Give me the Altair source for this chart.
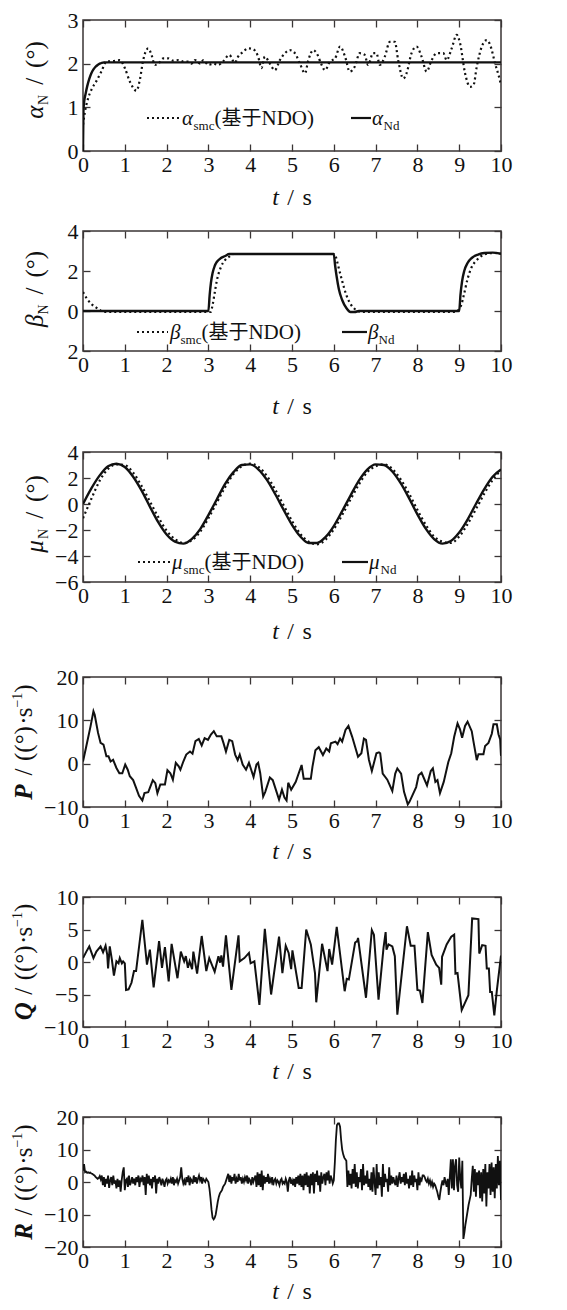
import altair as alt
import pandas as pd

# ---------------------------------------------------------------- data
# panel 1 : alpha
t_alpha_smc = [0, 0.04, 0.12, 0.2, 0.32, 0.44, 0.56, 0.72, 0.88, 1.0,
               1.12, 1.28, 1.36, 1.44, 1.56, 1.64, 1.72, 1.8, 1.92, 2.04,
               2.15, 2.28, 2.4, 2.5, 2.6, 2.68, 2.8, 2.88, 3.0, 3.12,
               3.23, 3.35, 3.5, 3.63, 3.71, 3.83, 3.95, 4.07, 4.19, 4.27,
               4.35, 4.47, 4.59, 4.71, 4.83, 4.95, 5.07, 5.19, 5.31, 5.39,
               5.51, 5.59, 5.71, 5.79, 5.91, 6.03, 6.15, 6.27, 6.38, 6.5,
               6.62, 6.74, 6.82, 6.94, 7.02, 7.1, 7.22, 7.34, 7.46, 7.54,
               7.66, 7.74, 7.86, 7.98, 8.1, 8.22, 8.34, 8.46, 8.62, 8.7,
               8.82, 8.94, 9.02, 9.14, 9.26, 9.34, 9.42, 9.54, 9.66, 9.74,
               9.86, 9.98, 10.0]
alpha_smc = [0.6, 0.86, 1.2, 1.4, 1.6, 1.82, 2.05, 2.06, 2.08, 1.9,
             1.59, 1.38, 1.63, 2.08, 2.35, 2.2, 1.97, 2.0, 2.12, 2.12,
             2.07, 2.08, 2.05, 2.05, 2.0, 2.08, 2.0, 2.08, 1.97, 2.0,
             1.97, 2.05, 2.2, 2.02, 2.16, 2.27, 2.35, 2.33, 2.16, 1.9,
             2.16, 2.0, 1.85, 2.08, 2.24, 2.31, 2.24, 2.0, 1.78, 2.08,
             2.31, 2.24, 1.97, 1.85, 2.05, 2.12, 2.39, 2.16, 1.82, 1.93,
             2.24, 2.2, 1.97, 2.24, 2.24, 1.97, 2.16, 2.5, 2.5, 2.08,
             1.66, 1.78, 2.24, 2.39, 2.16, 1.82, 2.08, 2.24, 2.24, 2.08,
             2.35, 2.66, 2.47, 1.78, 1.47, 1.5, 1.93, 2.39, 2.54, 2.43,
             2.0, 1.59, 1.5]
t_alpha_nd = [0, 0.01, 0.03, 0.06, 0.1, 0.15, 0.2, 0.25, 0.3, 0.35, 0.4, 0.45, 0.5, 0.6, 10.0]
alpha_nd = [0, 0.9, 1.15, 1.3, 1.48, 1.65, 1.78, 1.87, 1.93, 1.97, 2.0, 2.02, 2.03, 2.03, 2.03]

# panel 2 : beta
t_beta_nd = [0, 3.0, 3.03, 3.06, 3.1, 3.15, 3.2, 3.3, 3.4, 3.5, 6.0, 6.03, 6.07, 6.12, 6.2,
             6.3, 6.4, 6.5, 6.6, 9.0, 9.03, 9.07, 9.12, 9.2, 9.3, 9.45, 9.6, 9.8, 10.0]
beta_nd = [0, 0, 0.8, 1.4, 1.9, 2.25, 2.45, 2.65, 2.75, 2.85, 2.85, 2.3, 1.7, 1.1, 0.55,
           0.15, -0.05, -0.05, 0, 0, 0.8, 1.5, 2.0, 2.4, 2.65, 2.82, 2.9, 2.92, 2.86]
t_beta_smc = [0, 0.1, 0.2, 0.3, 0.4, 0.5, 3.05, 3.1, 3.15, 3.2, 3.3, 3.4, 3.5, 3.6, 6.0,
              6.05, 6.1, 6.2, 6.3, 6.4, 6.5, 6.6, 6.7, 8.9, 9.0, 9.05, 9.1, 9.2, 9.3, 9.4,
              9.5, 9.7, 9.85, 10.0]
beta_smc = [0.95, 0.6, 0.35, 0.2, 0.05, -0.05, -0.05, 0.3, 0.9, 1.5, 2.2, 2.55, 2.72, 2.85, 2.85,
            2.7, 2.3, 1.5, 0.8, 0.35, 0.1, -0.02, -0.05, -0.05, 0.1, 0.3, 0.7, 1.6, 2.2, 2.5,
            2.7, 2.88, 2.9, 2.86]

# panel 3 : mu (sampled every 0.2 s)
t_mu = [round(0.2 * i, 1) for i in range(51)]
mu_nd = [0.0, 1.2, 2.2, 2.9, 3.1, 2.85, 2.1, 1.05, -0.2, -1.4,
         -2.35, -2.9, -3.05, -2.7, -1.95, -0.85, 0.35, 1.55, 2.45, 3.0,
         3.05, 2.65, 1.85, 0.75, -0.45, -1.6, -2.5, -3.0, -3.0, -2.55,
         -1.7, -0.55, 0.65, 1.8, 2.65, 3.05, 3.0, 2.5, 1.6, 0.45,
         -0.8, -1.9, -2.7, -3.05, -2.85, -2.2, -1.2, 0.0, 1.15, 2.1, 2.65]
mu_smc = [-1.1, 0.4, 1.8, 2.7, 3.05, 3.0, 2.4, 1.4, 0.2, -1.0,
          -2.05, -2.7, -3.0, -2.8, -2.15, -1.1, 0.1, 1.3, 2.3, 2.9,
          3.1, 2.85, 2.15, 1.1, -0.1, -1.3, -2.3, -2.9, -3.1, -2.75,
          -1.95, -0.85, 0.35, 1.5, 2.45, 2.9, 3.05, 2.7, 1.9, 0.8,
          -0.45, -1.6, -2.5, -2.9, -3.0, -2.5, -1.55, -0.4, 0.8, 1.85, 2.6]

# panel 4 : P
t_p = [0, 0.07, 0.18, 0.25, 0.28, 0.36, 0.42, 0.49, 0.56, 0.61,
       0.66, 0.72, 0.8, 0.87, 0.94, 1.01, 1.07, 1.12, 1.2, 1.27,
       1.34, 1.42, 1.47, 1.56, 1.6, 1.67, 1.73, 1.78, 1.85, 1.96,
       2.02, 2.09, 2.15, 2.22, 2.29, 2.33, 2.4, 2.47, 2.56, 2.62,
       2.69, 2.77, 2.84, 2.91, 2.99, 3.06, 3.13, 3.2, 3.31, 3.36,
       3.42, 3.5, 3.57, 3.64, 3.7, 3.75, 3.82, 3.9, 3.97, 4.08,
       4.15, 4.19, 4.24, 4.31, 4.36, 4.47, 4.54, 4.69, 4.76, 4.82,
       4.87, 4.91, 4.98, 5.09, 5.23, 5.28, 5.45, 5.49, 5.56, 5.64,
       5.74, 5.82, 5.89, 5.93, 6.04, 6.09, 6.15, 6.2, 6.28, 6.35,
       6.44, 6.58, 6.66, 6.72, 6.77, 6.84, 6.91, 7.02, 7.08, 7.11,
       7.17, 7.28, 7.4, 7.47, 7.52, 7.61, 7.68, 7.77, 7.81, 7.97,
       8.03, 8.1, 8.23, 8.32, 8.37, 8.43, 8.48, 8.54, 8.63, 8.74,
       8.81, 8.88, 8.96, 9.02, 9.07, 9.14, 9.2, 9.3, 9.34, 9.39,
       9.42, 9.46, 9.58, 9.62, 9.7, 9.78, 9.82, 9.9, 9.94, 9.98,
       10.0]
p_rate = [0.5, 3.6, 8.6, 12.1, 11.3, 7.1, 4.8, 4.4, 1.7, 1.7,
          0.5, 0.9, -1.0, -2.2, -2.2, -0.2, -1.4, -2.9, -3.8, -5.6,
          -7.4, -8.5, -6.8, -6.6, -5.6, -3.8, -4.5, -6.8, -4.8, -4.8,
          -1.5, -2.2, -3.7, 0.2, -0.6, -1.4, 0.5, 2.1, 2.8, 2.3,
          5.2, 5.7, 4.2, 5.9, 5.5, 6.7, 7.5, 6.3, 6.3, 4.8,
          2.8, 5.5, 5.2, 2.1, 0.8, 2.1, -0.2, -1.4, 0.2, -3.1,
          -0.2, 0.2, -2.2, -7.6, -6.5, -3.2, -3.8, -8.3, -6.0, -7.8,
          -8.5, -4.4, -6.0, -4.2, -0.3, -3.5, -3.5, -0.7, 3.1, 3.8,
          2.0, 3.5, 2.8, 4.7, 5.1, 4.5, 5.8, 5.1, 7.8, 8.7,
          6.2, 1.6, 2.4, 5.8, 5.5, 0.9, -1.7, 2.4, 2.6, 2.4,
          -2.3, -3.7, -6.3, -2.3, -1.1, -2.3, -6.5, -9.4, -8.8, -5.4,
          -2.7, -2.1, -5.0, -1.7, -1.1, -4.2, -3.8, -6.8, -4.2, 0.4,
          2.4, 6.2, 9.3, 7.9, 6.0, 8.7, 9.7, 7.5, 5.2, 2.5,
          0.8, 2.2, 2.2, 4.1, 4.8, 6.9, 9.1, 9.1, 6.8, 5.6,
          1.8]

# panel 5 : Q
t_q = [0, 0.08, 0.15, 0.25, 0.32, 0.42, 0.48, 0.54, 0.58, 0.6,
       0.64, 0.69, 0.74, 0.8, 0.85, 0.88, 0.93, 0.96, 1.0, 1.03,
       1.09, 1.16, 1.22, 1.27, 1.42, 1.53, 1.6, 1.69, 1.82, 1.89,
       1.96, 2.05, 2.12, 2.26, 2.34, 2.42, 2.46, 2.51, 2.55, 2.61,
       2.64, 2.73, 2.84, 2.95, 3.02, 3.15, 3.24, 3.28, 3.31, 3.35,
       3.42, 3.55, 3.72, 3.75, 3.86, 3.97, 4.01, 4.1, 4.22, 4.35,
       4.5, 4.69, 4.77, 4.85, 4.92, 4.98, 5.01, 5.16, 5.23, 5.34,
       5.45, 5.55, 5.58, 5.72, 5.85, 5.89, 5.96, 6.07, 6.26, 6.31,
       6.36, 6.51, 6.56, 6.58, 6.77, 6.91, 6.96, 7.07, 7.19, 7.24,
       7.26, 7.31, 7.4, 7.46, 7.52, 7.75, 7.84, 7.93, 8.0, 8.06,
       8.12, 8.25, 8.34, 8.45, 8.52, 8.57, 8.59, 8.7, 8.81, 8.88,
       8.91, 8.96, 9.06, 9.22, 9.31, 9.46, 9.48, 9.55, 9.63, 9.66,
       9.71, 9.74, 9.78, 9.84, 9.9, 10.0]
q_rate = [0.6, 1.6, 2.4, 0.6, 1.6, 2.4, 1.5, 2.5, 1.1, -1.0,
          2.4, 0.4, -2.1, 0.1, -0.2, 0.6, -0.2, 0.1, -0.2, -4.3,
          -4.2, -3.2, -1.4, -1.4, 6.5, -0.4, 1.9, -3.9, 3.2, -0.9,
          2.3, -3.0, 2.8, -2.5, 1.6, 0.1, 0.9, -0.9, 0.1, -1.1,
          1.6, -1.8, 4.0, -1.4, 0.6, -1.5, 0.9, -0.1, 1.0, -0.7,
          4.1, -4.3, 4.1, 0.1, 0.6, 1.4, -0.2, 0.1, -6.6, 5.1,
          -5.0, 3.9, -1.7, 2.5, 1.4, -1.1, 1.8, -4.0, -4.0, 5.0,
          2.7, -1.7, -6.2, 2.8, -1.4, 2.0, -0.4, 5.4, -4.5, -2.6,
          -2.7, 3.0, 3.2, 3.7, -5.5, 4.9, 4.2, -5.8, 2.2, 4.6,
          1.9, 2.7, 2.4, 0.9, -8.1, 5.5, 2.5, 2.5, -4.3, -4.4,
          -6.3, 4.6, 1.1, -0.4, -0.9, -3.5, 0.8, 2.7, 3.9, 4.2,
          -1.8, -1.7, -7.4, -5.1, 6.7, 6.6, 1.3, 2.6, 2.5, -1.0,
          -1.0, -4.6, -4.6, -8.2, -4.4, 1.0]

# panel 6 : R (sampled every 0.025 s)
t_r = [round(0.025 * i, 3) for i in range(401)]
r_rate = [
    3.5, 5.5, 3.0, 3.2, 2.8, 3.0, 2.8, 2.9, 2.6, 2.5, 2.2, 2.0, 1.6, 1.3, 1.0, 1.2, 1.8, 0.8, 2.0, -1.0,
    1.5, -1.5, 1.0, -0.5, 2.0, -1.8, 0.5, 1.5, -1.0, 2.0, -0.5, 0.5, -2.0, 1.0, -1.5, 0.5, -3.0, 0.5, 3.0, 4.5,
    -2.5, 0.5, 1.0, -1.5, 2.0, -1.0, 0.0, 1.5, -0.5, 1.0, -1.0, 1.5, 0.0, 2.0, -1.5, 1.0, 0.5, 2.0, -1.0, 1.5,
    -4.0, 2.5, -0.5, 2.0, -1.0, 1.0, -2.0, 1.5, 0.0, 2.0, -3.5, 1.0, -0.5, 1.5, 0.5, -1.0, 1.0, 0.0, -1.5, 0.5,
    1.0, -0.5, 0.5, 0.0, 1.0, -0.5, 1.5, -1.0, 0.5, 0.0, 1.0, -0.5, 0.5, 1.5, 4.5, 1.0, -0.5, 0.5, -1.0, 1.5,
    0.0, 2.0, -1.0, 1.0, 0.5, -0.5, 2.0, 0.0, 1.5, -0.5, 1.0, 2.0, 0.5, 1.5, -0.5, 1.0, 0.5, 0.0, 1.0, 0.5,
    0.0, -2.0, -5.0, -8.5, -11.0, -11.5, -11.0, -10.0, -8.0, -6.0, -4.5, -3.5, -3.0, -2.5, -1.5, -1.0, -0.5, 0.5, 1.5, 2.5,
    0.0, 2.0, -0.5, 1.5, 0.5, 2.5, -0.5, 1.0, 0.0, 2.5, 0.5, 1.5, -0.5, 1.0, 0.0, 1.5, 0.5, 2.0, -0.5, 1.0,
    0.5, -1.0, 1.5, 0.0, 1.0, 2.0, -1.5, 3.0, -1.0, 2.5, -1.5, 3.5, -2.5, 2.0, -0.5, 1.5, 0.0, 2.5, -0.5, 1.0,
    0.0, 1.5, -1.0, 0.5, 1.0, -0.5, 0.5, 0.0, -1.0, 0.5, 1.0, -0.5, 0.0, -0.5, 1.0, 0.0, -3.0, 0.5, 1.5, -0.5,
    0.5, -1.0, 1.0, -1.5, 1.5, -0.5, 2.0, -1.0, 2.5, -1.5, 2.0, -2.5, 2.5, -1.0, 3.0, -1.5, 2.0, -3.5, 2.5, -1.0,
    3.0, -3.5, 2.5, 0.0, 3.5, -1.0, 2.0, -3.0, 3.0, -0.5, 1.5, 2.5, -1.0, 3.0, 0.5, 3.5, -0.5, 2.0, 1.0, -0.5,
    0.5, 6.0, 13.0, 17.5, 18.0, 18.0, 17.0, 13.0, 10.0, 8.5, 7.5, 7.0, 6.5, -1.5, 3.5, -1.0, 2.5, -2.0, 4.0, -0.5,
    5.5, -1.5, 3.0, -2.0, 1.5, 0.0, 4.0, -2.5, 5.5, -1.0, 2.0, -0.5, 3.5, -1.5, 1.0, -2.5, 3.0, -3.0, 4.5, 0.0,
    -4.0, 5.5, -2.0, 3.0, -1.0, 1.5, -4.5, 5.5, -1.5, 2.5, 0.0, 1.0, -3.0, 4.5, -1.0, 2.0, -0.5, 1.5, 0.0, -1.0,
    2.0, -1.5, 1.0, 3.0, -0.5, 1.5, 0.0, 2.5, -1.0, 3.0, -0.5, 1.0, -2.0, 2.0, -1.0, 3.5, -1.5, 2.0, 0.0, 1.0,
    -2.5, 3.0, -1.0, 1.0, 0.5, 2.0, 2.0, 1.5, 0.5, 0.0, 1.0, -0.5, 0.5, -1.0, 0.0, -1.5, -0.5, -1.0, -2.0, -3.0,
    -4.5, -5.5, -3.0, -1.0, 0.5, -1.0, 1.5, 0.0, -1.5, 1.0, -4.0, 1.5, 7.0, -2.0, 7.0, -2.5, 5.0, 7.0, -1.0, -3.0,
    7.5, 1.0, -2.0, 6.5, -17.5, -15.5, -13.0, -11.0, -9.0, -7.0, -5.5, -4.0, 1.0, 5.0, -3.0, 4.0, -4.5, 3.0, -1.0, 3.5,
    -5.0, 3.0, -6.0, 4.0, -3.5, 5.5, -7.5, 3.0, -2.0, 5.5, -4.0, 6.0, -3.0, 4.5, -5.0, 5.5, -2.0, 8.0, -1.0, 6.5,
    -5.5]

x_ticks = list(range(0, 11))

# ---------------------------------------------------------------- style
FONT = "Liberation Serif"
CJK = "Noto Sans CJK SC"
INK = "#111111"
FRAME = "#3a3535"
W = 418
TICK = 7
LBL = 22
TTL = 24
LEG = 21
SUB = 14

CW = {' ': 0.25, '/': 0.278, '(': 0.333, ')': 0.333, '°': 0.4, '·': 0.25, 's': 0.389,
      'N': 0.722, 'D': 0.722, 'O': 0.722, 'd': 0.5, 'm': 0.778, 'c': 0.444, 'P': 0.667,
      'Q': 0.722, 'R': 0.667, 't': 0.278, 'α': 0.55, 'β': 0.5, 'μ': 0.55, '基': 1.0,
      '于': 1.0, '−': 0.564, '1': 0.5}


def tw(s, size):
    return sum(CW.get(ch, 0.5) for ch in s) * size


ONE = pd.DataFrame({"k": [0]})
XS = alt.Scale(domain=[0, 10], nice=False, zero=False)


def txt(s, x, y, size, style="normal", weight="normal", angle=0, dx=0, dy=0, font=FONT):
    return alt.Chart(ONE).mark_text(
        text=s, font=font, fontSize=size, fontStyle=style, fontWeight=weight,
        angle=angle, dx=dx, dy=dy, align="left", baseline="alphabetic", color=INK
    ).encode(x=alt.value(x), y=alt.value(y))


def hrule(x1, x2, y, dotted):
    kw = dict(color=INK, strokeWidth=2.2, strokeCap="butt")
    if dotted:
        kw["strokeDash"] = [2, 3]
    return alt.Chart(ONE).mark_rule(**kw).encode(
        x=alt.value(x1), x2=alt.value(x2), y=alt.value(y))


def xenc(orient):
    ax = alt.Axis(orient=orient, values=x_ticks, offset=-TICK, tickSize=TICK, domain=False,
                  grid=False, title=None, labels=(orient == "bottom"), labelFlush=False,
                  labelOverlap=False, format="d", labelFont=FONT, labelFontSize=LBL,
                  labelColor=INK, labelPadding=3, tickColor=FRAME, tickWidth=1.3)
    return alt.X("t:Q", scale=XS, axis=ax)


def yenc(orient, dom, vals, expr=None):
    kw = dict(orient=orient, values=vals, offset=-TICK, tickSize=TICK, domain=False,
              grid=False, title=None, labels=(orient == "left"), labelFlush=False,
              labelOverlap=False, labelFont=FONT, labelFontSize=LBL, labelColor=INK,
              labelPadding=5, tickColor=FRAME, tickWidth=1.3)
    if expr:
        kw["labelExpr"] = expr
    return alt.Y("v:Q", scale=alt.Scale(domain=dom, nice=False, zero=False), axis=alt.Axis(**kw))


# a piece: (text, size, style, weight, shift across baseline, gap before in em, font)
def pc(s, size, style="normal", weight="normal", shift=0, gap=0.0, font=FONT):
    return (s, size, style, weight, shift, gap, font)


def run_len(pieces):
    return sum(p[5] * p[1] + tw(p[0], p[1]) for p in pieces)


def hpieces(pieces, x0, y):
    out, x = [], x0
    for s, size, style, weight, dy, gap, font in pieces:
        x += gap * size
        out.append(txt(s, x, y, size, style, weight, dy=dy, font=font))
        x += tw(s, size)
    return out


def ytitle(pieces, xb, yc):
    y0 = yc + run_len(pieces) / 2
    out, acc = [], 0
    for s, size, style, weight, dy, gap, font in pieces:
        acc += gap * size
        out.append(txt(s, xb, y0, size, style, weight, angle=270, dx=acc, dy=dy, font=font))
        acc += tw(s, size)
    return out


def legend(sym, yl, yb, d1, d2, s1, s2):
    out = [hrule(d1, d2, yl, True), hrule(s1, s2, yl, False)]
    out += hpieces([pc(sym, LEG, "italic"), pc("smc", SUB - 1, shift=5), pc("(", LEG),
                    pc("基于", LEG - 1, font=CJK), pc("NDO)", LEG)], d2 + 2, yb)
    out += hpieces([pc(sym, LEG, "italic"), pc("Nd", SUB - 1, shift=5)], s2 + 1, yb)
    return out


def panel(h, dom, vals, lines, tpieces, tx, ty, xoff, leg=None, expr=None):
    layers = []
    for i, (t, v, dotted, width, interp) in enumerate(lines):
        df = pd.DataFrame({"t": t, "v": v})
        kw = dict(color=INK, strokeWidth=width, interpolate=interp, clip=True)
        if dotted:
            kw.update(strokeDash=[2, 3], strokeCap="butt")
        if i == 0:
            enc = dict(x=xenc("bottom"), y=yenc("left", dom, vals, expr))
        else:
            enc = dict(x=alt.X("t:Q", scale=XS, axis=None),
                       y=alt.Y("v:Q", scale=alt.Scale(domain=dom, nice=False, zero=False), axis=None))
        layers.append(alt.Chart(df).mark_line(**kw).encode(**enc))
    t0, v0 = lines[0][0], lines[0][1]
    layers.append(alt.Chart(pd.DataFrame({"t": t0, "v": v0})).mark_line(opacity=0).encode(
        x=xenc("top"), y=yenc("right", dom, vals)))
    layers += ytitle(tpieces, tx, ty)
    xt = [pc("t", TTL, "italic"), pc("/", TTL, gap=0.35), pc("s", TTL, gap=0.35)]
    layers += hpieces(xt, W / 2 - run_len(xt) / 2, h + xoff)
    if leg:
        layers += leg
    return alt.layer(*layers).resolve_axis(x="independent", y="independent").properties(width=W, height=h)


def greek_title(sym):
    return [pc(sym, TTL + 1, "italic"), pc("N", SUB, shift=5),
            pc("/", TTL + 1, gap=0.4), pc("(°)", TTL + 1, gap=0.4)]


def rate_title(sym):
    return [pc(sym, TTL + 1, "italic", "bold"), pc("/", TTL + 1, gap=0.3),
            pc("((°)", TTL + 1, gap=0.3), pc("·", TTL + 1, gap=0.05), pc("s", TTL + 1, gap=0.05),
            pc("−1", SUB, shift=-10), pc(")", TTL + 1)]


p1 = panel(131, [0, 3], [0, 1, 2, 3],
           [(t_alpha_nd, alpha_nd, False, 2.4, "monotone"),
            (t_alpha_smc, alpha_smc, True, 2.2, "monotone")],
           greek_title("α"), -40, 60, 54, legend("α", 98, 105, 64, 97, 268, 288))
p2 = panel(120, [-2, 4], [-2, 0, 2, 4],
           [(t_beta_nd, beta_nd, False, 2.4, "monotone"),
            (t_beta_smc, beta_smc, True, 2.2, "monotone")],
           greek_title("β"), -40, 58, 63, legend("β", 101, 108, 54, 85, 259, 284),
           expr="datum.value < 0 ? '2' : datum.label")
p3 = panel(130, [-6, 4], [-6, -4, -2, 0, 2, 4],
           [(t_mu, mu_nd, False, 2.4, "monotone"),
            (t_mu, mu_smc, True, 2.2, "monotone")],
           greek_title("μ"), -40, 62, 57, legend("μ", 110, 117, 55, 87, 259, 285))
p4 = panel(130, [-10, 20], [-10, 0, 10, 20],
           [(t_p, p_rate, False, 2.0, "linear")], rate_title("P"), -51, 65, 52)
p5 = panel(130, [-10, 10], [-10, -5, 0, 5, 10],
           [(t_q, q_rate, False, 2.0, "linear")], rate_title("Q"), -51, 65, 52)
p6 = panel(130, [-20, 20], [-20, -10, 0, 10, 20],
           [(t_r, r_rate, False, 1.8, "linear")], rate_title("R"), -51, 65, 52)

chart = alt.vconcat(
    p1, alt.vconcat(p2, p3, p4, p5, p6, spacing=20), spacing=8
).properties(
    padding={"left": 2, "top": 0, "right": 5, "bottom": 0}, background="white"
).configure_view(stroke=FRAME, strokeWidth=1.5)

chart.save("out.html", embed_options={"renderer": "svg", "actions": False})
